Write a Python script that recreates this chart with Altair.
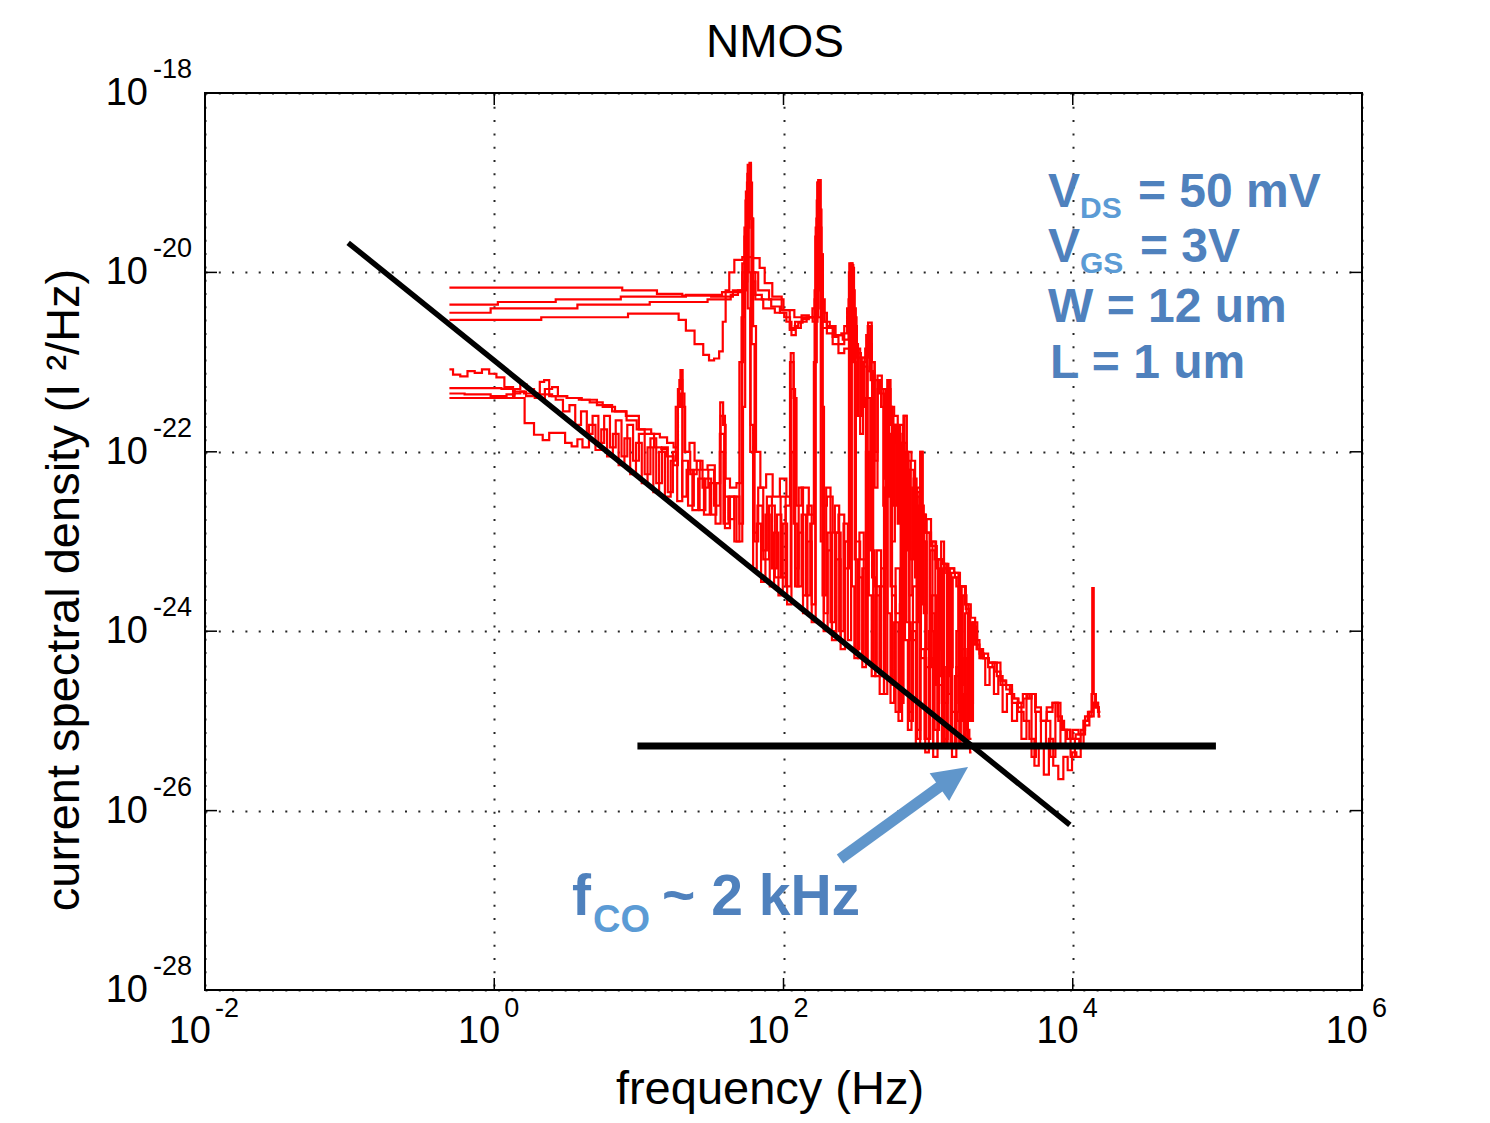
import altair as alt
import pandas as pd

FONT = "Liberation Sans"

# ---------------- axis decades ----------------
X_TICKS = [1e-2, 1e0, 1e2, 1e4, 1e6]
X_EXP = ["-2", "0", "2", "4", "6"]
Y_TICKS = [1e-18, 1e-20, 1e-22, 1e-24, 1e-26, 1e-28]
Y_EXP = ["-18", "-20", "-22", "-24", "-26", "-28"]

# ---------------- measured spectra: (log10 f [Hz], log10 S [I^2/Hz]) ----------------
U1 = [(-0.31,-20.17),(0.87,-20.17),(0.90,-20.20),(1.05,-20.20),(1.20,-20.24),(1.40,-20.26),(1.60,-20.27),
      (1.70,-20.22),(1.74,-20.10),(1.76,-19.50),(1.77,-18.80),(1.78,-19.40),(1.80,-20.00),(1.85,-20.20),
      (1.95,-20.30),(2.05,-20.42),(2.10,-20.50),(2.15,-20.48),(2.20,-20.50),(2.23,-20.30),(2.24,-19.00),
      (2.25,-19.60),(2.26,-20.40),(2.28,-20.55),(2.32,-20.62),(2.38,-20.70),(2.44,-20.75),(2.46,-20.30),
      (2.47,-19.90),(2.48,-20.50),(2.50,-20.80),(2.53,-21.60),(2.55,-20.95),(2.58,-20.85),(2.60,-20.60),
      (2.62,-21.00),(2.64,-22.10),(2.66,-21.15),(2.70,-21.30),(2.72,-22.40),(2.73,-21.20),(2.75,-21.50),
      (2.78,-21.60),(2.80,-22.80),(2.81,-21.70),(2.84,-21.90),(2.86,-23.10),(2.87,-22.00),(2.90,-22.10),
      (2.92,-23.40),(2.93,-22.40),(2.96,-22.60),(2.98,-23.80),(3.00,-22.75),(3.04,-23.00),(3.06,-24.10),
      (3.08,-23.20),(3.12,-23.25),(3.14,-24.50),(3.16,-23.30),(3.20,-23.35),(3.22,-24.80),(3.24,-23.50),
      (3.28,-23.75),(3.30,-25.00),(3.32,-23.90),(3.36,-24.20),(3.40,-24.30),(3.44,-24.35),(3.48,-24.35),
      (3.52,-24.55),(3.56,-24.60),(3.60,-24.75),(3.64,-24.85),(3.68,-24.75),(3.72,-24.70),(3.76,-24.90),
      (3.80,-25.00),(3.84,-24.90),(3.88,-24.80),(3.92,-25.00),(3.96,-25.10),(4.00,-25.20),(4.04,-25.15),
      (4.07,-25.10),(4.10,-24.95),(4.13,-24.90),(4.14,-23.52),(4.15,-24.70),(4.17,-24.85),(4.19,-24.95)]

U2 = [(-0.31,-20.36),(0.00,-20.36),(0.05,-20.33),(0.40,-20.33),(0.45,-20.30),(0.85,-20.30),(0.90,-20.27),
      (1.30,-20.27),(1.35,-20.25),(1.55,-20.25),(1.60,-20.22),(1.70,-20.20),(1.73,-19.90),(1.745,-19.20),
      (1.755,-18.90),(1.77,-19.30),(1.79,-20.00),(1.82,-20.25),(1.88,-20.30),(1.95,-20.38),(2.00,-20.45),
      (2.04,-20.55),(2.07,-20.70),(2.10,-20.62),(2.14,-20.55),(2.18,-20.50),(2.22,-20.40),(2.235,-19.40),
      (2.245,-18.97),(2.255,-19.30),(2.27,-20.30),(2.30,-20.55),(2.34,-20.60),(2.38,-20.70),(2.42,-20.68),
      (2.46,-20.40),(2.475,-19.92),(2.49,-20.50),(2.52,-20.90),(2.55,-21.50),(2.57,-20.95),(2.60,-20.56),
      (2.62,-21.10),(2.64,-22.00),(2.66,-21.30),(2.69,-21.50),(2.71,-22.30),(2.73,-21.30),(2.75,-21.60),
      (2.77,-22.60),(2.79,-21.75),(2.81,-21.90),(2.83,-23.00),(2.85,-22.00),(2.87,-22.10),(2.89,-23.20),
      (2.91,-22.30),(2.93,-22.50),(2.95,-23.60),(2.97,-22.70),(3.00,-22.90),(3.02,-24.00),(3.04,-23.00),
      (3.07,-23.30),(3.09,-24.20),(3.11,-23.30),(3.14,-23.35),(3.16,-24.40),(3.18,-23.40),(3.21,-23.50),
      (3.23,-24.60),(3.25,-23.60),(3.28,-23.80),(3.30,-24.80),(3.32,-23.95),(3.35,-24.20),(3.38,-24.30),
      (3.41,-24.60),(3.44,-24.40),(3.47,-24.70),(3.50,-24.50),(3.53,-24.90),(3.56,-24.70),(3.60,-25.00),
      (3.63,-24.80),(3.66,-25.20),(3.70,-24.70),(3.73,-25.40),(3.76,-24.90),(3.80,-25.30),(3.83,-25.00),
      (3.86,-25.40),(3.90,-24.80),(3.93,-25.30),(3.97,-25.10),(4.00,-25.40),(4.03,-25.20),(4.06,-25.30),
      (4.09,-25.00),(4.12,-24.95),(4.14,-24.70),(4.17,-24.85),(4.19,-24.95)]

U3 = [(-0.31,-20.45),(-0.05,-20.45),(0.00,-20.40),(0.55,-20.40),(0.60,-20.36),(1.05,-20.36),(1.10,-20.33),
      (1.45,-20.33),(1.50,-20.30),(1.62,-20.30),(1.65,-20.25),(1.72,-20.20),(1.74,-19.50),(1.765,-18.80),
      (1.775,-19.00),(1.79,-20.10),(1.82,-20.30),(1.90,-20.40),(1.98,-20.45),(2.03,-20.50),(2.06,-20.62),
      (2.10,-20.55),(2.15,-20.52),(2.20,-20.50),(2.23,-20.20),(2.24,-19.00),(2.25,-18.97),(2.265,-19.80),
      (2.28,-20.45),(2.32,-20.60),(2.36,-20.72),(2.40,-20.80),(2.44,-20.60),(2.465,-20.00),(2.48,-19.95),
      (2.495,-20.60),(2.52,-20.85),(2.54,-21.80),(2.56,-21.00),(2.585,-20.70),(2.60,-20.80),(2.62,-21.00),
      (2.64,-22.40),(2.66,-21.20),(2.68,-21.30),(2.70,-22.60),(2.72,-21.40),(2.74,-21.50),(2.76,-23.00),
      (2.78,-21.70),(2.80,-21.80),(2.82,-23.30),(2.84,-22.10),(2.86,-22.20),(2.88,-23.60),(2.90,-22.40),
      (2.92,-22.60),(2.94,-23.90),(2.96,-22.80),(2.98,-23.00),(3.00,-24.20),(3.03,-23.10),(3.06,-23.20),
      (3.08,-24.50),(3.10,-23.25),(3.13,-23.30),(3.15,-24.70),(3.17,-23.35),(3.20,-23.40),(3.22,-24.90),
      (3.24,-23.50),(3.27,-23.70),(3.29,-25.00),(3.31,-23.90),(3.34,-24.10),(3.37,-24.30),(3.40,-24.25),
      (3.43,-24.40),(3.46,-24.35),(3.49,-24.50),(3.52,-24.55),(3.55,-24.60),(3.58,-24.70),(3.61,-24.75),
      (3.64,-24.80),(3.67,-24.70),(3.70,-24.75),(3.73,-24.70),(3.76,-24.85),(3.80,-25.00),(3.84,-24.85),
      (3.88,-24.80),(3.91,-24.95),(3.94,-25.10),(3.98,-25.20),(4.02,-25.10),(4.06,-25.15),(4.09,-25.00),
      (4.12,-24.90),(4.16,-24.80),(4.19,-24.90)]

U4 = [(-0.31,-20.53),(0.30,-20.53),(0.35,-20.50),(0.90,-20.50),(0.95,-20.46),(1.25,-20.46),(1.30,-20.53),
      (1.35,-20.65),(1.42,-20.80),(1.47,-20.92),(1.50,-20.98),(1.54,-20.96),(1.57,-20.88),(1.59,-20.55),
      (1.61,-20.20),(1.64,-20.00),(1.68,-19.86),(1.75,-19.83),(1.82,-19.84),(1.85,-19.95),(1.89,-20.12),
      (1.955,-20.27),(2.02,-20.42),(2.066,-20.64),(2.09,-20.60),(2.114,-20.56),(2.15,-20.50),(2.183,-20.50),
      (2.22,-20.55),(2.25,-20.50),(2.28,-20.62),(2.32,-20.68),(2.36,-20.80),(2.40,-20.90),(2.44,-20.85),
      (2.48,-20.80),(2.52,-20.95),(2.56,-21.05),(2.60,-21.10),(2.64,-21.20),(2.68,-21.35),(2.72,-21.50),
      (2.76,-21.70),(2.80,-21.90),(2.84,-22.05),(2.88,-22.20),(2.92,-22.45),(2.96,-22.70),(3.00,-22.90),
      (3.04,-23.05),(3.08,-23.20),(3.12,-23.25),(3.16,-23.30),(3.20,-23.35),(3.24,-23.50),(3.28,-23.70),
      (3.31,-23.85),(3.34,-24.15),(3.37,-24.25),(3.40,-24.30),(3.44,-24.35),(3.48,-24.45),(3.52,-24.60),
      (3.56,-24.65),(3.60,-24.80),(3.64,-24.90),(3.68,-25.00),(3.72,-25.20),(3.75,-25.50),(3.78,-25.30),
      (3.82,-25.60),(3.85,-25.20),(3.88,-25.50),(3.92,-25.65),(3.95,-25.40),(3.98,-25.55),(4.01,-25.35),
      (4.04,-25.40),(4.07,-25.15),(4.10,-25.05),(4.13,-24.95),(4.16,-24.80),(4.19,-24.90)]

L1 = [(-0.31,-21.08),(-0.26,-21.14),(-0.21,-21.16),(-0.16,-21.10),(-0.11,-21.12),(-0.06,-21.08),(-0.01,-21.13),
      (0.04,-21.17),(0.10,-21.28),(0.16,-21.33),(0.25,-21.35),(0.35,-21.36),(0.45,-21.38),(0.55,-21.40),
      (0.62,-21.42),(0.70,-21.45),(0.80,-21.50),(0.87,-21.55),(0.95,-21.60),(1.05,-21.75),(1.12,-21.80),
      (1.17,-21.84),(1.22,-21.90),(1.26,-21.95),(1.28,-21.30),(1.295,-21.09),(1.31,-21.50),(1.33,-22.00),
      (1.37,-21.90),(1.40,-22.10),(1.45,-22.20),(1.50,-22.15),(1.55,-22.35),(1.575,-21.45),(1.59,-21.70),
      (1.61,-22.30),(1.65,-22.40),(1.70,-22.35),(1.72,-20.50),(1.74,-19.60),(1.76,-19.20),(1.77,-18.78),
      (1.78,-19.40),(1.80,-20.60),(1.82,-22.00),(1.86,-22.40),(1.90,-22.25),(1.95,-22.50),(2.00,-22.30),
      (2.04,-22.50),(2.06,-20.90),(2.08,-21.40),(2.10,-22.60),(2.15,-22.40),(2.20,-22.70),(2.23,-20.50),
      (2.25,-19.30),(2.26,-20.20),(2.28,-22.60),(2.32,-22.50),(2.36,-22.90),(2.40,-22.70),(2.44,-23.00),
      (2.47,-20.50),(2.49,-21.00),(2.51,-23.00),(2.55,-23.20),(2.59,-21.40),(2.61,-23.10),(2.65,-23.50),
      (2.70,-23.30),(2.73,-21.80),(2.75,-23.50),(2.80,-23.80),(2.84,-22.50),(2.86,-23.90),(2.90,-24.10),
      (2.94,-23.00),(2.96,-24.30),(3.00,-24.40),(3.04,-23.60),(3.07,-24.60),(3.12,-24.80),(3.15,-24.00),
      (3.18,-24.90),(3.22,-25.00),(3.25,-24.20),(3.27,-25.10),(3.30,-25.20)]

L2 = [(-0.31,-21.29),(0.00,-21.29),(0.10,-21.30),(0.18,-21.40),(0.24,-21.68),(0.31,-21.81),(0.36,-21.87),
      (0.40,-21.79),(0.47,-21.79),(0.51,-21.90),(0.56,-21.94),(0.59,-21.86),(0.63,-21.95),(0.68,-21.70),
      (0.72,-21.98),(0.76,-21.75),(0.80,-22.05),(0.84,-21.80),(0.88,-22.15),(0.92,-21.85),(0.96,-22.25),
      (1.00,-21.90),(1.04,-22.35),(1.08,-21.95),(1.12,-22.45),(1.16,-22.00),(1.20,-22.50),(1.24,-22.10),
      (1.27,-21.50),(1.29,-21.20),(1.31,-22.50),(1.35,-22.20),(1.39,-22.65),(1.43,-22.30),(1.47,-22.70),
      (1.51,-22.35),(1.55,-22.80),(1.58,-21.60),(1.61,-22.85),(1.65,-22.50),(1.70,-23.00),(1.73,-20.00),
      (1.75,-19.10),(1.77,-19.30),(1.79,-20.80),(1.81,-23.00),(1.84,-22.40),(1.88,-23.20),(1.92,-22.60),
      (1.96,-23.40),(2.00,-22.50),(2.03,-23.50),(2.07,-21.30),(2.09,-23.30),(2.12,-22.40),(2.15,-23.60),
      (2.18,-22.60),(2.21,-23.70),(2.23,-19.60),(2.245,-19.00),(2.26,-19.80),(2.28,-23.60),(2.31,-22.40),
      (2.34,-23.90),(2.37,-22.60),(2.40,-24.00),(2.43,-22.80),(2.46,-24.10),(2.475,-19.95),(2.49,-20.40),
      (2.51,-24.20),(2.54,-22.90),(2.57,-24.30),(2.595,-20.60),(2.61,-21.20),(2.63,-24.40),(2.66,-23.10),
      (2.69,-24.50),(2.72,-21.30),(2.74,-22.50),(2.76,-24.60),(2.79,-23.30),(2.82,-24.80),(2.84,-21.60),
      (2.86,-23.00),(2.88,-24.90),(2.91,-23.50),(2.94,-25.10),(2.95,-22.00),(2.97,-23.70),(3.00,-25.20),
      (3.03,-23.80),(3.06,-25.10),(3.09,-23.40),(3.12,-25.20),(3.15,-24.10),(3.18,-25.30),(3.21,-24.00),
      (3.24,-25.20),(3.26,-24.30),(3.28,-25.30),(3.30,-25.25)]

L3 = [(-0.31,-21.35),(-0.10,-21.36),(0.05,-21.38),(0.12,-21.36),(0.16,-21.30),(0.20,-21.25),(0.25,-21.30),
      (0.30,-21.35),(0.33,-21.22),(0.36,-21.20),(0.40,-21.38),(0.45,-21.42),(0.50,-21.55),(0.54,-21.48),
      (0.58,-21.70),(0.62,-21.55),(0.66,-21.80),(0.70,-21.60),(0.74,-21.90),(0.78,-21.60),(0.82,-21.95),
      (0.86,-21.65),(0.90,-22.05),(0.94,-21.70),(0.98,-22.10),(1.02,-21.80),(1.06,-22.25),(1.10,-21.85),
      (1.14,-22.35),(1.18,-21.95),(1.22,-22.45),(1.25,-22.00),(1.28,-22.55),(1.32,-22.10),(1.36,-22.60),
      (1.40,-22.20),(1.44,-22.65),(1.48,-22.30),(1.52,-22.70),(1.55,-22.35),(1.57,-22.00),(1.60,-22.80),
      (1.64,-22.50),(1.68,-23.00),(1.71,-21.00),(1.73,-20.20),(1.745,-19.60),(1.76,-20.40),(1.78,-22.00),
      (1.80,-23.30),(1.83,-22.80),(1.86,-23.45),(1.89,-22.70),(1.92,-23.50),(1.95,-22.90),(1.98,-23.60),
      (2.01,-22.80),(2.04,-23.70),(2.07,-22.00),(2.09,-23.50),(2.12,-22.90),(2.15,-23.80),(2.18,-23.00),
      (2.21,-23.90),(2.235,-19.50),(2.25,-19.80),(2.265,-23.00),(2.29,-24.00),(2.32,-23.10),(2.35,-24.10),
      (2.38,-23.20),(2.41,-24.20),(2.44,-23.30),(2.465,-20.60),(2.48,-23.50),(2.50,-24.30),(2.53,-23.40),
      (2.56,-24.40),(2.58,-22.00),(2.60,-23.60),(2.62,-24.50),(2.65,-23.60),(2.68,-24.70),(2.71,-22.40),
      (2.73,-23.80),(2.75,-24.80),(2.78,-23.90),(2.81,-25.00),(2.83,-22.80),(2.85,-24.10),(2.87,-25.10),
      (2.90,-24.00),(2.93,-25.30),(2.96,-24.20),(2.99,-25.20),(3.02,-24.30),(3.05,-25.30),(3.08,-24.00),
      (3.11,-25.30),(3.14,-24.40),(3.17,-25.30),(3.20,-24.50),(3.23,-25.30),(3.26,-24.70),(3.29,-25.30)]

L4 = [(-0.31,-21.40),(0.10,-21.40),(0.16,-21.35),(0.20,-21.33),(0.24,-21.38),(0.32,-21.40),(0.38,-21.30),
      (0.42,-21.28),(0.46,-21.38),(0.55,-21.40),(0.66,-21.42),(0.76,-21.48),(0.87,-21.55),(0.96,-21.65),
      (1.01,-21.75),(1.07,-21.80),(1.14,-21.95),(1.17,-21.97),(1.22,-22.05),(1.26,-22.15),(1.28,-21.50),
      (1.30,-21.35),(1.33,-22.00),(1.38,-22.25),(1.42,-22.10),(1.46,-22.40),(1.50,-22.20),(1.54,-22.60),
      (1.58,-21.80),(1.60,-22.50),(1.64,-22.75),(1.68,-22.50),(1.71,-22.80),(1.73,-21.50),(1.74,-20.00),
      (1.755,-19.00),(1.765,-20.00),(1.78,-21.70),(1.80,-22.90),(1.84,-22.60),(1.87,-23.10),(1.90,-22.50),
      (1.94,-23.30),(1.97,-22.70),(2.00,-23.40),(2.03,-22.60),(2.06,-21.00),(2.08,-22.80),(2.11,-23.50),
      (2.14,-22.70),(2.17,-23.60),(2.20,-22.80),(2.22,-21.00),(2.24,-19.20),(2.255,-19.50),(2.27,-21.50),
      (2.29,-23.80),(2.32,-22.90),(2.35,-24.00),(2.38,-22.90),(2.41,-24.10),(2.44,-23.00),(2.47,-19.90),
      (2.485,-20.20),(2.50,-23.20),(2.53,-24.30),(2.56,-23.30),(2.59,-20.70),(2.605,-21.10),(2.62,-23.40),
      (2.65,-24.50),(2.68,-23.50),(2.71,-24.70),(2.725,-21.20),(2.74,-21.70),(2.76,-23.60),(2.79,-24.90),
      (2.82,-23.70),(2.845,-21.60),(2.86,-22.30),(2.88,-25.00),(2.91,-23.90),(2.94,-25.20),(2.955,-22.00),
      (2.97,-23.00),(2.99,-25.35),(3.02,-24.00),(3.05,-25.40),(3.08,-24.20),(3.10,-23.00),(3.12,-25.30),
      (3.15,-24.30),(3.18,-25.40),(3.21,-24.40),(3.24,-25.30),(3.27,-23.80),(3.28,-25.30),(3.30,-25.35)]

# fitted 1/f line and white-noise floor (log10 f, log10 S)
FLICKER_FIT = [(-1.01, -19.67), (3.98, -26.16)]
THERMAL_FLOOR = [(0.99, -25.28), (4.99, -25.28)]

# corner-frequency arrow (log10 f, log10 S)
ARROW_FROM = (2.391, -26.540)
ARROW_TO = (3.134, -25.670)
ARROW_TIP = (3.276, -25.514)

# ---------------- data frames ----------------
rows = []
for name, pts in [("U1", U1), ("U2", U2), ("U3", U3), ("U4", U4),
                  ("L1", L1), ("L2", L2), ("L3", L3), ("L4", L4)]:
    for i, (lf, ls) in enumerate(pts):
        rows.append({"trace": name, "i": i, "f": 10 ** lf, "S": 10 ** ls})
spec_df = pd.DataFrame(rows)

fit_df = pd.DataFrame({"f": [10 ** p[0] for p in FLICKER_FIT], "S": [10 ** p[1] for p in FLICKER_FIT]})
floor_df = pd.DataFrame({"f": [10 ** p[0] for p in THERMAL_FLOOR], "S": [10 ** p[1] for p in THERMAL_FLOOR]})
arrow_df = pd.DataFrame({"f": [10 ** ARROW_FROM[0]], "S": [10 ** ARROW_FROM[1]],
                         "f2": [10 ** ARROW_TO[0]], "S2": [10 ** ARROW_TO[1]]})
tip_df = pd.DataFrame({"f": [10 ** ARROW_TIP[0]], "S": [10 ** ARROW_TIP[1]]})

xlab_df = pd.DataFrame({"f": X_TICKS, "exp": X_EXP, "base": ["10"] * len(X_TICKS)})
ylab_df = pd.DataFrame({"S": Y_TICKS, "exp": Y_EXP, "base": ["10"] * len(Y_TICKS)})

MAIN_BLUE = "#4F81BD"
SUB_BLUE = "#5B9BD5"
ARROW_BLUE = "#6096CB"

annot = [
    # text, log10 f, log10 S, size, colour
    ("V", 3.829, -19.271, 48, MAIN_BLUE),
    ("DS", 4.050, -19.394, 30, SUB_BLUE),
    ("= 50 mV", 4.451, -19.271, 48, MAIN_BLUE),
    ("V", 3.829, -19.884, 48, MAIN_BLUE),
    ("GS", 4.050, -20.007, 30, SUB_BLUE),
    ("= 3V", 4.465, -19.884, 48, MAIN_BLUE),
    ("W = 12 um", 3.829, -20.553, 48, MAIN_BLUE),
    ("L = 1 um", 3.843, -21.177, 48, MAIN_BLUE),
    ("f", 0.538, -27.164, 57, MAIN_BLUE),
    ("CO", 0.683, -27.353, 38, SUB_BLUE),
    ("~ 2 kHz", 1.160, -27.164, 57, MAIN_BLUE),
]
annot_df = pd.DataFrame({
    "txt": [a[0] for a in annot],
    "f": [10 ** a[1] for a in annot],
    "S": [10 ** a[2] for a in annot],
    "fs": [a[3] for a in annot],
    "col": [a[4] for a in annot],
})

# ---------------- scales / axes ----------------
W, H = 1157, 897
xscale = alt.Scale(type="log", domain=[1e-2, 1e6], nice=False)
yscale = alt.Scale(type="log", domain=[1e-28, 1e-18], nice=False)
xaxis = alt.Axis(values=X_TICKS, grid=True, labels=False, ticks=False, domain=False, title=None,
                 gridColor="#000000", gridDash=[2, 11.3], gridWidth=2, gridOpacity=0.85)
yaxis = alt.Axis(values=Y_TICKS, grid=True, labels=False, ticks=False, domain=False, title=None,
                 gridColor="#000000", gridDash=[2, 11.3], gridWidth=2, gridOpacity=0.85)


def X(field="f"):
    return alt.X(f"{field}:Q", scale=xscale, axis=xaxis)


def Y(field="S"):
    return alt.Y(f"{field}:Q", scale=yscale, axis=yaxis)


spectra = alt.Chart(spec_df).mark_line(color="#FF0000", strokeWidth=2.2, clip=True,
                                       interpolate="step").encode(
    x=X(), y=Y(), detail="trace:N", order="i:Q")

fit = alt.Chart(fit_df).mark_line(color="#000000", strokeWidth=5.5, strokeCap="butt").encode(x=X(), y=Y())
floor = alt.Chart(floor_df).mark_line(color="#000000", strokeWidth=7, strokeCap="butt").encode(x=X(), y=Y())

# ticks (inward, MATLAB style)
xt_bottom = alt.Chart(xlab_df).mark_rule(color="#000", strokeWidth=1.5).encode(
    x=X(), y=alt.value(H), y2=alt.value(H - 12))
xt_top = alt.Chart(xlab_df).mark_rule(color="#000", strokeWidth=1.5).encode(
    x=X(), y=alt.value(0), y2=alt.value(12))
yt_left = alt.Chart(ylab_df).mark_rule(color="#000", strokeWidth=1.5).encode(
    y=Y(), x=alt.value(0), x2=alt.value(12))
yt_right = alt.Chart(ylab_df).mark_rule(color="#000", strokeWidth=1.5).encode(
    y=Y(), x=alt.value(W), x2=alt.value(W - 12))

# tick labels 10^n
xl_base = alt.Chart(xlab_df).mark_text(font=FONT, fontSize=38, align="right", baseline="alphabetic",
                                       dx=6, color="#000").encode(x=X(), y=alt.value(H + 53), text="base:N")
xl_exp = alt.Chart(xlab_df).mark_text(font=FONT, fontSize=27, align="left", baseline="alphabetic",
                                      dx=10, color="#000").encode(x=X(), y=alt.value(H + 27), text="exp:N")
yl_base = alt.Chart(ylab_df).mark_text(font=FONT, fontSize=38, align="right", baseline="alphabetic",
                                       dy=12, color="#000").encode(y=Y(), x=alt.value(-57), text="base:N")
yl_exp = alt.Chart(ylab_df).mark_text(font=FONT, fontSize=27, align="left", baseline="alphabetic",
                                      dy=-15, color="#000").encode(y=Y(), x=alt.value(-52), text="exp:N")

# titles
one = pd.DataFrame({"t": ["NMOS"]})
title = alt.Chart(one).mark_text(font=FONT, fontSize=46, align="center", baseline="alphabetic",
                                 color="#000").encode(x=alt.value(570), y=alt.value(-36), text="t:N")
xtitle = alt.Chart(pd.DataFrame({"t": ["frequency (Hz)"]})).mark_text(
    font=FONT, fontSize=47, align="center", baseline="alphabetic", color="#000").encode(
    x=alt.value(565), y=alt.value(H + 114), text="t:N")
ytitle = alt.Chart(pd.DataFrame({"t": ["current spectral density (I \u00b2/Hz)"]})).mark_text(
    font=FONT, fontSize=47, align="center", baseline="middle", angle=270, color="#000").encode(
    x=alt.value(-140), y=alt.value(497), text="t:N")

# arrow
shaft = alt.Chart(arrow_df).mark_rule(color=ARROW_BLUE, strokeWidth=11, strokeCap="butt").encode(
    x=X(), y=Y(), x2="f2:Q", y2="S2:Q")
head = alt.Chart(tip_df).mark_point(shape="M0,0L0.85,1.75L-0.85,1.75Z", filled=True, size=1600,
                                    angle=55, color=ARROW_BLUE, opacity=1, strokeWidth=0).encode(x=X(), y=Y())

annots = alt.Chart(annot_df).mark_text(font=FONT, fontWeight="bold", align="left",
                                       baseline="alphabetic").encode(
    x=X(), y=Y(), text="txt:N",
    size=alt.Size("fs:Q", scale=None, legend=None),
    color=alt.Color("col:N", scale=None, legend=None))

chart = alt.layer(
    spectra, fit, floor, xt_bottom, xt_top, yt_left, yt_right,
    xl_base, xl_exp, yl_base, yl_exp, title, xtitle, ytitle, shaft, head, annots
).properties(
    width=W, height=H,
    autosize=alt.AutoSizeParams(type="none"),
    padding={"left": 197, "top": 85, "right": 110, "bottom": 125},
    background="white",
).configure_view(stroke="#000000", strokeWidth=2)

chart.save("out.html", embed_options={"renderer": "svg", "actions": False})
